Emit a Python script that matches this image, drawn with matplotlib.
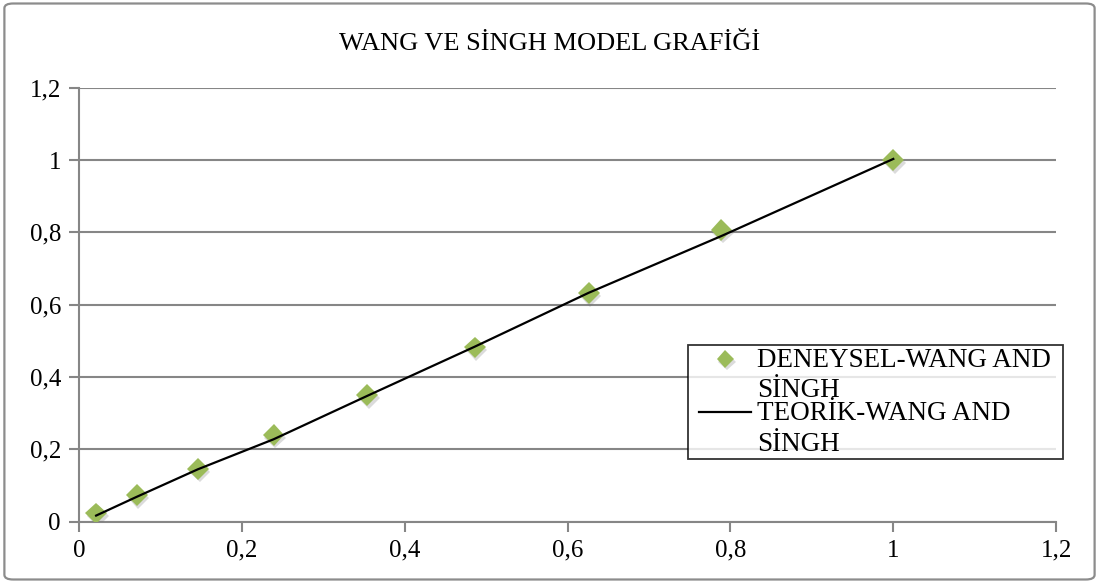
import matplotlib
matplotlib.use("Agg")
import numpy as np
import matplotlib.pyplot as plt
import matplotlib.patheffects as pe
from matplotlib.patches import FancyBboxPatch
from matplotlib.legend_handler import HandlerLine2D

plt.rcParams['font.family'] = ['Liberation Serif', 'DejaVu Serif']

# deneysel ve teorik nem oranlari
x_deney = [0.021, 0.071, 0.146, 0.239, 0.354, 0.486, 0.626, 0.789, 1.0]
y_deney = [0.023, 0.074, 0.146, 0.240, 0.350, 0.482, 0.632, 0.807, 1.0]
y_teorik = [0.017, 0.069, 0.145, 0.228, 0.348, 0.484, 0.633, 0.790, 1.003]

ticks = [0, 0.2, 0.4, 0.6, 0.8, 1.0, 1.2]
tick_labels = ['0', '0,2', '0,4', '0,6', '0,8', '1', '1,2']

baslik = 'WANG VE SİNGH MODEL GRAFİĞİ'
etiket_deney = 'DENEYSEL-WANG AND\nSİNGH'
etiket_teorik = 'TEORİK-WANG AND\nSİNGH'

grid_renk = '#868686'
yesil = '#9BBB59'


class UstSatirHandler(HandlerLine2D):
    # lejant isaretini ilk satir hizasina tasir, cizgiyi soldan kisaltir
    def create_artists(self, legend, orig_handle, xdescent, ydescent,
                       width, height, fontsize, trans):
        artists = super().create_artists(legend, orig_handle, xdescent, ydescent,
                                         width, height, fontsize, trans)
        for a in artists:
            xd = np.asarray(a.get_xdata(), dtype=float)
            yd = np.asarray(a.get_ydata(), dtype=float)
            a.set_xdata(np.linspace(xd[0] + 0.33 * fontsize, xd[-1], len(xd)))
            a.set_ydata(yd + 0.62 * fontsize)
        return artists


fig = plt.figure(figsize=(10.99, 5.83), dpi=100)
ax = fig.add_axes([0.0719, 0.1051, 0.8891, 0.7445])

# dis cerceve
cerceve = FancyBboxPatch((0.004, 0.006), 0.992, 0.988,
                         boxstyle='round,pad=0,rounding_size=0.008',
                         transform=fig.transFigure, fill=False,
                         edgecolor='#8c8c8c', linewidth=1.6)
fig.patches.append(cerceve)

golge = [pe.SimplePatchShadow(offset=(1.2, -2), shadow_rgbFace='#707070',
                              alpha=0.25), pe.Normal()]
ax.plot(x_deney, y_deney, linestyle='none', marker='D', markersize=11,
        color=yesil, markeredgewidth=0, label=etiket_deney, zorder=3,
        path_effects=golge)
ax.plot(x_deney, y_teorik, color='black', linewidth=1.6,
        label=etiket_teorik, zorder=4)

ax.set_xlim(0, 1.2)
ax.set_ylim(0, 1.2)
ax.set_xticks(ticks)
ax.set_xticklabels(tick_labels)
ax.set_yticks(ticks)
ax.set_yticklabels(tick_labels)
ax.tick_params(axis='both', labelsize=18, color=grid_renk, width=1.5,
               length=7, direction='out')
ax.tick_params(axis='x', pad=6)
ax.tick_params(axis='y', pad=6)

ax.grid(axis='y', color=grid_renk, linewidth=1.5)
ax.set_axisbelow(True)
for s in ['top', 'right']:
    ax.spines[s].set_visible(False)
for s in ['left', 'bottom']:
    ax.spines[s].set_color(grid_renk)
    ax.spines[s].set_linewidth(1.5)

fig.text(0.5, 0.925, baslik, ha='center', va='center', fontsize=19)

leg = ax.legend(loc='upper left', bbox_to_anchor=(0.623, 0.0, 0.384, 0.407),
                mode='expand', fontsize=19.5, frameon=True, fancybox=False,
                borderpad=0.1, labelspacing=-0.09, handlelength=2.25,
                handletextpad=0.2, borderaxespad=0,
                handler_map={matplotlib.lines.Line2D: UstSatirHandler()})
leg.get_frame().set_edgecolor('black')
leg.get_frame().set_linewidth(1.3)
for t in leg.get_texts():
    t.set_linespacing(1.3)
leg.legend_handles[0].set_markersize(9)

fig.savefig('out.png', dpi=100)
